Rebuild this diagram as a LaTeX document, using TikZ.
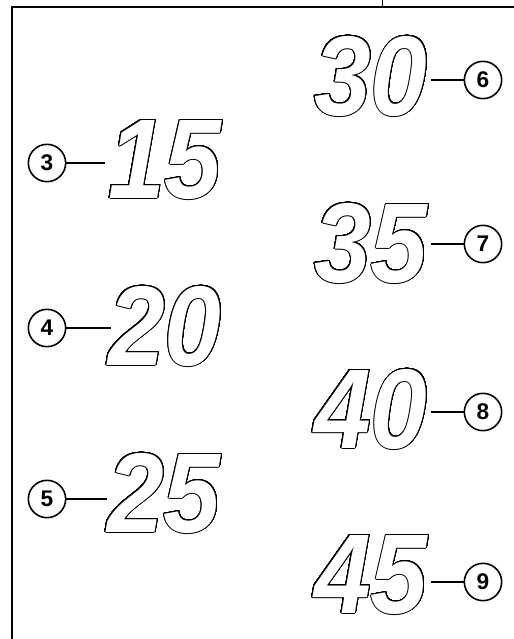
\documentclass[tikz,border=0pt]{standalone}
\usepackage{fontspec}
\setmainfont{Liberation Sans}
\newfontfamily\digitfont[FakeStretch=0.9]{Liberation Sans Bold Italic}
\usepackage{contour}
\contourlength{0.75pt}
\contournumber{48}

\begin{document}
\begin{tikzpicture}[
    x=0.75pt, y=-0.75pt, % pixel grid of the sheet
    callout/.style={draw, circle, line width=1.2pt, minimum size=28pt, inner sep=0pt,
        font=\bfseries\fontsize{17}{18}\selectfont}, % Style for item numbers
    num/.style={inner sep=0pt, text=white, font=\digitfont\fontsize{85}{90}\selectfont},
    lead/.style={line width=1.2pt}
]
\useasboundingbox (0,0) rectangle (514,639);

% Frame
\draw[line width=1.5pt] (12,639) -- (12,7) -- (514,7);
\draw[line width=0.6pt] (382,0) -- (382,7);

% Left column
\node[num, anchor=base west] (n15) at (108,198) {\contour{black}{15}};
\node[num, anchor=base west] (n20) at (108,365) {\contour{black}{20}};
\node[num, anchor=base west] (n25) at (107,532) {\contour{black}{25}};

% Right column
\node[num, anchor=base east] (n30) at (428,115) {\contour{black}{30}};
\node[num, anchor=base east] (n35) at (428,282) {\contour{black}{35}};
\node[num, anchor=base east] (n40) at (428,448) {\contour{black}{40}};
\node[num, anchor=base east] (n45) at (428,613) {\contour{black}{45}};

% Item numbers
\node[callout] (c3) at (47,163) {3};
\node[callout] (c4) at (47,328) {4};
\node[callout] (c5) at (47,499) {5};
\node[callout] (c6) at (483,80) {6};
\node[callout] (c7) at (483,244) {7};
\node[callout] (c8) at (483,412) {8};
\node[callout] (c9) at (483,582) {9};

% Leaders
\draw[lead] (c3) -- ([xshift=-2pt]c3 -| n15.west);
\draw[lead] (c4) -- ([xshift=2pt]c4 -| n20.west);
\draw[lead] (c5) -- ([xshift=0pt]c5 -| n25.west);
\draw[lead] (c6) -- ([xshift=2pt]c6 -| n30.east);
\draw[lead] (c7) -- ([xshift=2pt]c7 -| n35.east);
\draw[lead] (c8) -- ([xshift=2pt]c8 -| n40.east);
\draw[lead] (c9) -- ([xshift=2pt]c9 -| n45.east);

\end{tikzpicture}
\end{document}
